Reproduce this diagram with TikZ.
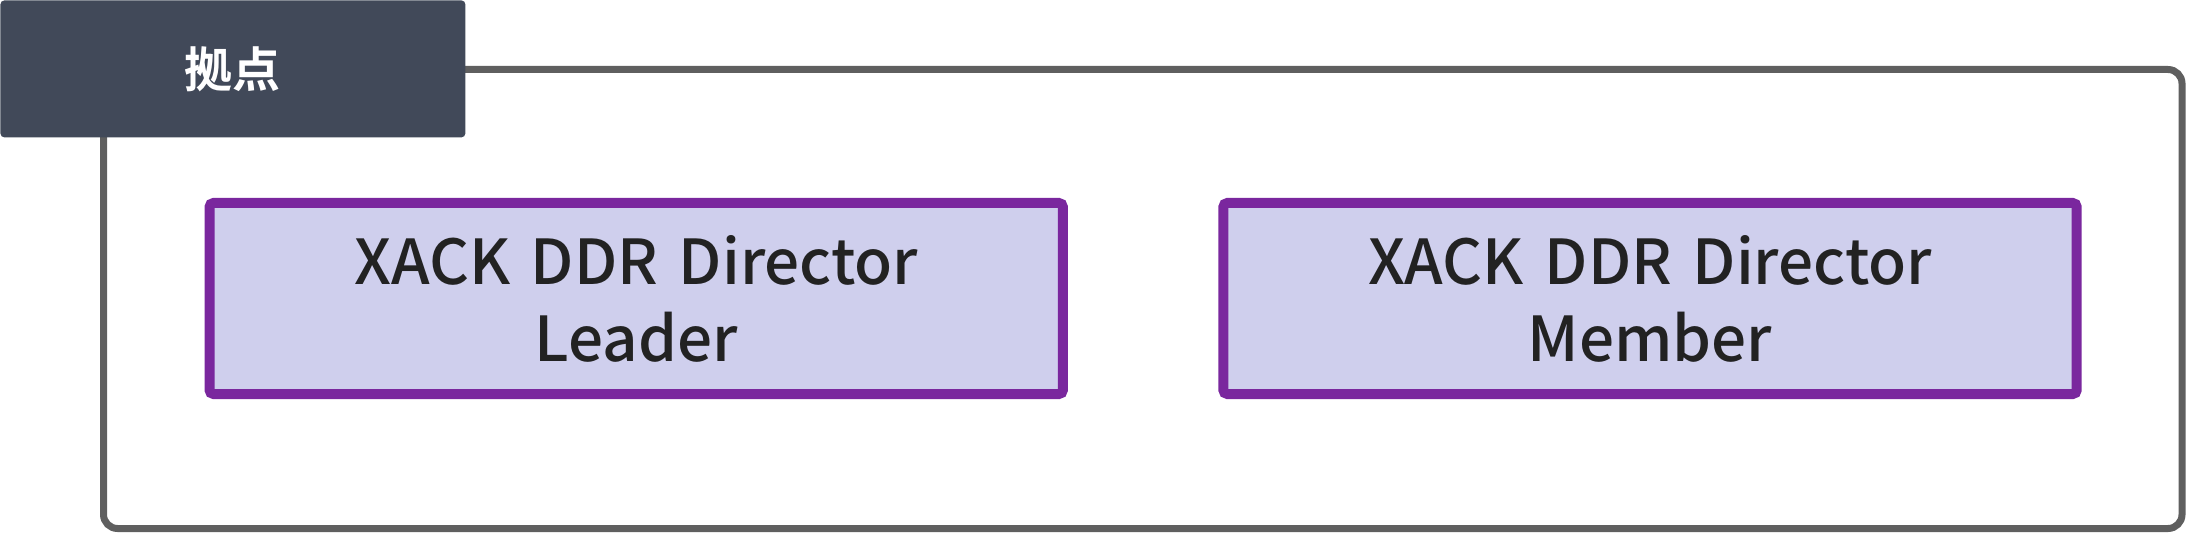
\documentclass[tikz,border=0pt]{standalone}
\usepackage{fontspec}
\setmainfont{Noto Sans CJK JP}
\newfontfamily\rolefont{Noto Sans CJK JP Medium}
\newfontfamily\titlefont{Noto Sans CJK JP Bold}
\usepackage{tikz}
\usetikzlibrary{positioning,calc}
\usepackage{xcolor}
\definecolor{framegray}{HTML}{5F5F5F}
\definecolor{titlebg}{HTML}{414959}
\definecolor{rolefill}{HTML}{CFCFED}
\definecolor{roleedge}{HTML}{7A279E}
\definecolor{roletext}{HTML}{222222}

\begin{document}
\begin{tikzpicture}[
    title/.style={rectangle, fill=titlebg, text=white, font=\titlefont\fontsize{24}{28}\selectfont, minimum width=232.5pt, minimum height=68.5pt, rounded corners=2pt, anchor=north west, inner sep=0pt},
    group/.style={draw=framegray, line width=3.5pt, rounded corners=7pt},
    role/.style={rectangle, draw=roleedge, fill=rolefill, text=roletext, line width=5pt, text width=420pt, align=center, minimum width=426.25pt, minimum height=95.5pt, rounded corners=2pt, font=\rolefont\fontsize{31}{38.5}\selectfont}
]
    \useasboundingbox (0,0) rectangle (1094pt,-267pt);
    \draw[group] (51.75pt,-34.75pt) rectangle (1091pt,-264.25pt);
    \node[title] (base) at (0,0) {拠点};
    \node[role] (leader) at (318.1pt,-149.25pt) {XACK DDR Director\\Leader};
    \node[role, right=75.25pt of leader] (member) {XACK DDR Director\\Member};
\end{tikzpicture}
\end{document}
